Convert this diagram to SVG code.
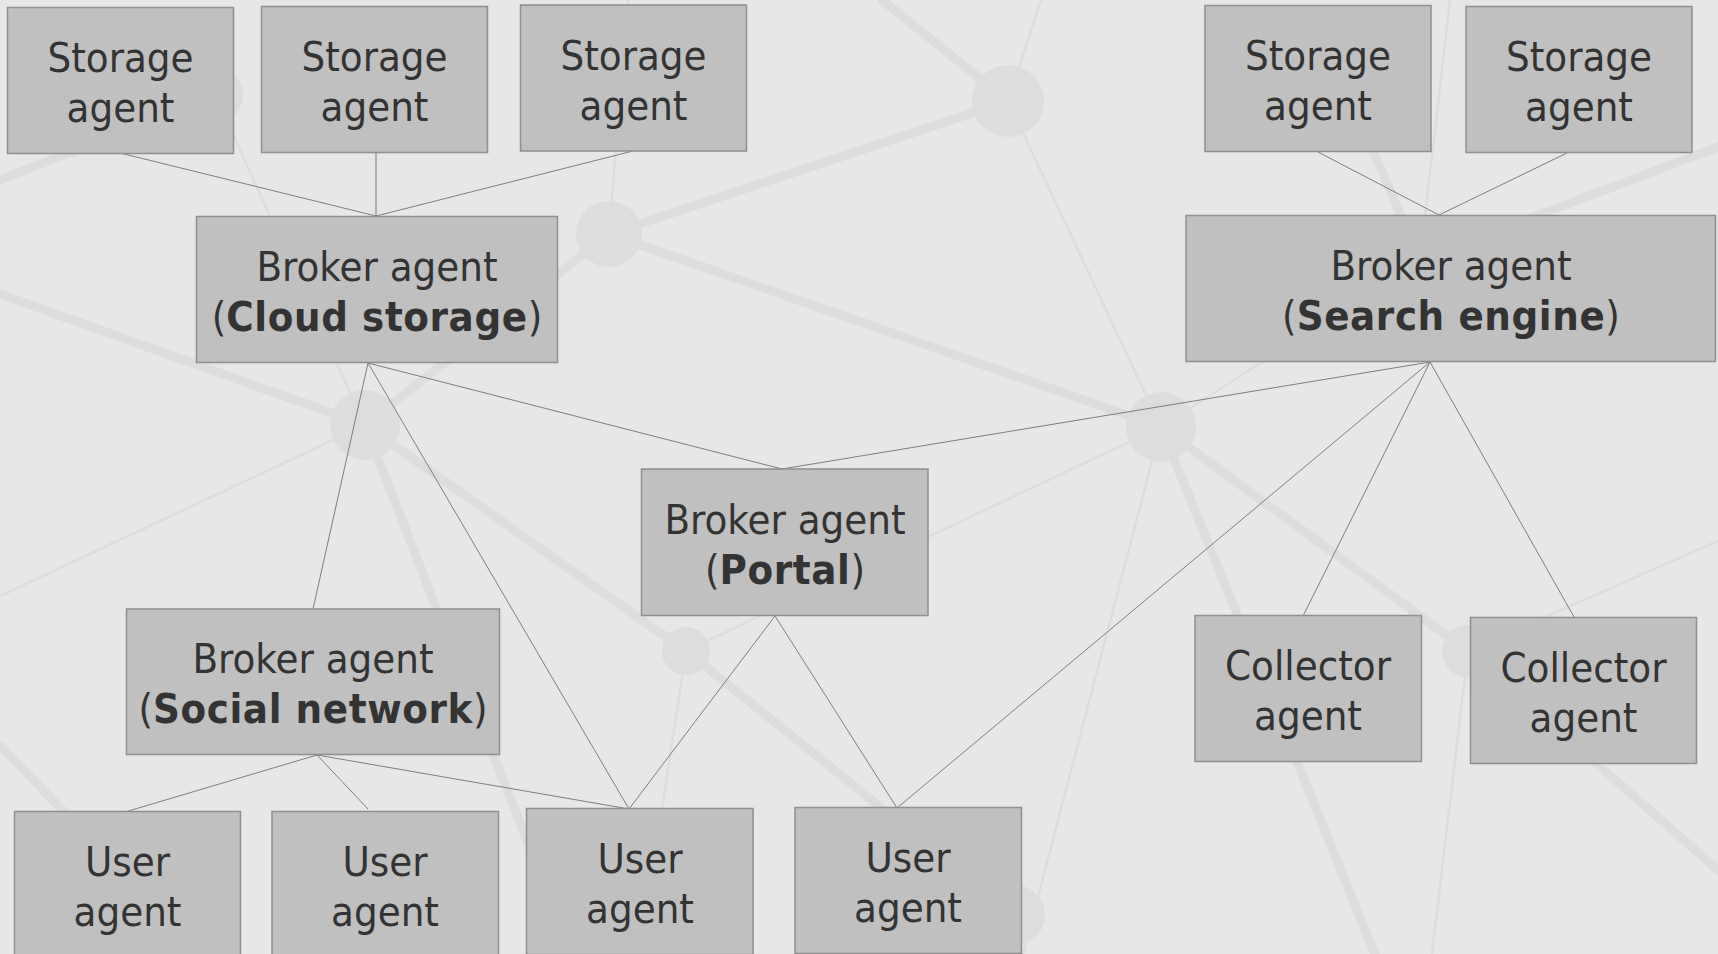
<svg xmlns="http://www.w3.org/2000/svg" width="1718" height="954" viewBox="0 0 1718 954">
  <style>
    .net-thick { stroke: #dbdedc; stroke-width: 9; stroke-linecap: round; fill: none; }
    .net-thin { stroke: #dbdedc; stroke-width: 2.5; fill: none; }
    .net-node { fill: #dbdedc; }
    .box { fill: #c0c0c0; stroke: #8f8f8f; stroke-width: 1.5; }
    .label { font-family: "DejaVu Sans Condensed", "DejaVu Sans", sans-serif; font-stretch: condensed; font-size: 41.5px; fill: #333333; text-anchor: middle; }
    .label tspan.b { font-weight: bold; letter-spacing: 0.6px; }
    .link { stroke: #7d7d7d; stroke-width: 1; fill: none; }
  </style>

  <!-- backdrop -->
  <rect x="0" y="0" width="1718" height="954" fill="#e7e7e7"/>

  <!-- decorative network pattern behind the diagram -->
  <g id="backdrop-network">
    <line class="net-thick" x1="609" y1="234" x2="1008" y2="101"/>
    <line class="net-thick" x1="1008" y1="101" x2="882" y2="0"/>
    <line class="net-thick" x1="609" y1="234" x2="1161" y2="427"/>
    <line class="net-thick" x1="365" y1="425" x2="0" y2="294"/>
    <line class="net-thick" x1="365" y1="425" x2="609" y2="234"/>
    <line class="net-thick" x1="365" y1="425" x2="571" y2="954"/>
    <line class="net-thick" x1="365" y1="425" x2="686" y2="651"/>
    <line class="net-thick" x1="1161" y1="427" x2="1468" y2="651"/>
    <line class="net-thick" x1="1468" y1="651" x2="1718" y2="870"/>
    <line class="net-thick" x1="1161" y1="427" x2="1375" y2="954"/>
    <line class="net-thick" x1="686" y1="651" x2="1015" y2="915"/>
    <line class="net-thick" x1="0" y1="180" x2="215" y2="95"/>
    <line class="net-thick" x1="0" y1="745" x2="200" y2="954"/>
    <line class="net-thick" x1="1718" y1="147" x2="1420" y2="260"/>
    <line class="net-thick" x1="1360" y1="120" x2="1420" y2="260"/>

    <line class="net-thin" x1="365" y1="425" x2="0" y2="596"/>
    <line class="net-thin" x1="1008" y1="101" x2="1161" y2="427"/>
    <line class="net-thin" x1="1008" y1="101" x2="1041" y2="0"/>
    <line class="net-thin" x1="609" y1="234" x2="628" y2="0"/>
    <line class="net-thin" x1="686" y1="651" x2="1161" y2="427"/>
    <line class="net-thin" x1="686" y1="651" x2="640" y2="954"/>
    <line class="net-thin" x1="1161" y1="427" x2="1023" y2="954"/>
    <line class="net-thin" x1="1468" y1="651" x2="1718" y2="541"/>
    <line class="net-thin" x1="1468" y1="651" x2="1432" y2="954"/>
    <line class="net-thin" x1="1161" y1="427" x2="1420" y2="260"/>
    <line class="net-thin" x1="215" y1="95" x2="365" y2="425"/>
    <line class="net-thin" x1="1450" y1="0" x2="1420" y2="260"/>

    <circle class="net-node" cx="1008" cy="101" r="36"/>
    <circle class="net-node" cx="609" cy="234" r="33"/>
    <circle class="net-node" cx="365" cy="425" r="35"/>
    <circle class="net-node" cx="1161" cy="427" r="35"/>
    <circle class="net-node" cx="686" cy="651" r="24"/>
    <circle class="net-node" cx="1468" cy="651" r="26"/>
    <circle class="net-node" cx="1015" cy="915" r="30"/>
    <circle class="net-node" cx="215" cy="95" r="28"/>
    <circle class="net-node" cx="1420" cy="260" r="30"/>
  </g>

  <!-- connectors -->
  <g id="connectors">
    <line class="link" x1="120" y1="153" x2="376" y2="216"/>
    <line class="link" x1="376" y1="153" x2="376" y2="216"/>
    <line class="link" x1="633" y1="151" x2="376" y2="216"/>
    <line class="link" x1="1318" y1="152" x2="1439" y2="215"/>
    <line class="link" x1="1567" y1="153" x2="1439" y2="215"/>

    <line class="link" x1="368" y1="363" x2="313" y2="609"/>
    <line class="link" x1="368" y1="363" x2="629" y2="809"/>
    <line class="link" x1="368" y1="363" x2="782" y2="469"/>

    <line class="link" x1="1430" y1="362" x2="782" y2="469"/>
    <line class="link" x1="1430" y1="362" x2="897" y2="808"/>
    <line class="link" x1="1430" y1="362" x2="1303" y2="616"/>
    <line class="link" x1="1430" y1="362" x2="1574" y2="617"/>

    <line class="link" x1="317" y1="755" x2="125" y2="812"/>
    <line class="link" x1="317" y1="755" x2="368" y2="809"/>
    <line class="link" x1="317" y1="755" x2="629" y2="809"/>

    <line class="link" x1="775" y1="616" x2="629" y2="809"/>
    <line class="link" x1="775" y1="616" x2="897" y2="808"/>
  </g>

  <!-- storage agents -->
  <g id="storage-1">
    <rect class="box" x="7.5" y="7.5" width="226" height="146"/>
    <text class="label" x="120.5" y="72">Storage</text>
    <text class="label" x="120.5" y="122">agent</text>
  </g>
  <g id="storage-2">
    <rect class="box" x="261.5" y="6.5" width="226" height="146"/>
    <text class="label" x="374.5" y="71">Storage</text>
    <text class="label" x="374.5" y="121">agent</text>
  </g>
  <g id="storage-3">
    <rect class="box" x="520.5" y="5" width="226" height="146"/>
    <text class="label" x="633.5" y="69.5">Storage</text>
    <text class="label" x="633.5" y="119.5">agent</text>
  </g>
  <g id="storage-4">
    <rect class="box" x="1205" y="5.5" width="226" height="146"/>
    <text class="label" x="1318" y="70">Storage</text>
    <text class="label" x="1318" y="120">agent</text>
  </g>
  <g id="storage-5">
    <rect class="box" x="1466" y="6.5" width="226" height="146"/>
    <text class="label" x="1579" y="71">Storage</text>
    <text class="label" x="1579" y="121">agent</text>
  </g>

  <!-- broker agents -->
  <g id="broker-cloud">
    <rect class="box" x="196.5" y="216.5" width="361" height="146"/>
    <text class="label" x="377" y="280.5">Broker agent</text>
    <text class="label" x="377" y="330.5">(<tspan class="b">Cloud storage</tspan>)</text>
  </g>
  <g id="broker-search">
    <rect class="box" x="1186" y="215.5" width="529.5" height="146"/>
    <text class="label" x="1451" y="279.5">Broker agent</text>
    <text class="label" x="1451" y="329.5">(<tspan class="b">Search engine</tspan>)</text>
  </g>
  <g id="broker-portal">
    <rect class="box" x="641.5" y="469" width="286.5" height="146.5"/>
    <text class="label" x="785" y="533.5">Broker agent</text>
    <text class="label" x="785" y="583.5">(<tspan class="b">Portal</tspan>)</text>
  </g>
  <g id="broker-social">
    <rect class="box" x="126.5" y="609" width="373" height="145.5"/>
    <text class="label" x="313" y="673">Broker agent</text>
    <text class="label" x="313" y="723">(<tspan class="b">Social network</tspan>)</text>
  </g>

  <!-- collector agents -->
  <g id="collector-1">
    <rect class="box" x="1195" y="615.5" width="226.5" height="146"/>
    <text class="label" x="1308" y="680">Collector</text>
    <text class="label" x="1308" y="730">agent</text>
  </g>
  <g id="collector-2">
    <rect class="box" x="1470.5" y="617.5" width="226" height="146"/>
    <text class="label" x="1583.5" y="682">Collector</text>
    <text class="label" x="1583.5" y="732">agent</text>
  </g>

  <!-- user agents -->
  <g id="user-1">
    <rect class="box" x="14.5" y="811.5" width="226" height="146"/>
    <text class="label" x="127.5" y="876">User</text>
    <text class="label" x="127.5" y="926">agent</text>
  </g>
  <g id="user-2">
    <rect class="box" x="272" y="811.5" width="226.5" height="146"/>
    <text class="label" x="385" y="876">User</text>
    <text class="label" x="385" y="926">agent</text>
  </g>
  <g id="user-3">
    <rect class="box" x="526.5" y="808.5" width="226.5" height="146"/>
    <text class="label" x="640" y="873">User</text>
    <text class="label" x="640" y="923">agent</text>
  </g>
  <g id="user-4">
    <rect class="box" x="795" y="807.5" width="226.5" height="146"/>
    <text class="label" x="908" y="872">User</text>
    <text class="label" x="908" y="922">agent</text>
  </g>
</svg>
